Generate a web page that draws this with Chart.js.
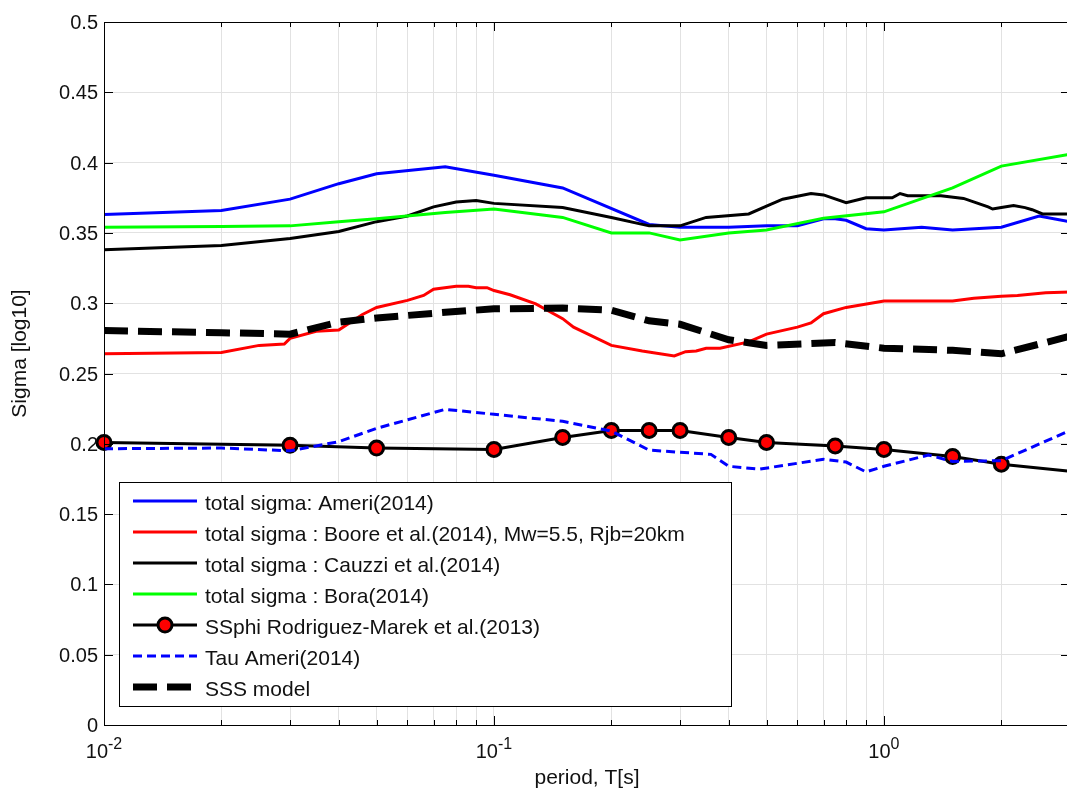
<!DOCTYPE html>
<html>
<head>
<meta charset="utf-8">
<title>Sigma vs period</title>
<script src="https://cdn.jsdelivr.net/npm/chart.js@4.4.1/dist/chart.umd.min.js"></script>
<style>
  html, body { margin: 0; padding: 0; background: #fff; overflow: hidden; }
  #wrap { width: 1080px; height: 793px; }
</style>
</head>
<body>
<div id="wrap"><canvas id="sigmaChart" width="1080" height="793"></canvas></div>
<script>
// total sigma : Ameri(2014)
const ameriPeriods = [0.01, 0.02, 0.03, 0.04, 0.05, 0.075, 0.1, 0.15, 0.25, 0.3, 0.4, 0.5, 0.6, 0.7, 0.75, 0.8, 0.9, 1.0, 1.25, 1.5, 2.0, 2.5, 3.0];
const ameriSigma   = [0.363, 0.366, 0.374, 0.385, 0.392, 0.397, 0.391, 0.382, 0.356, 0.354, 0.354, 0.355, 0.355, 0.360, 0.360, 0.359, 0.353, 0.352, 0.354, 0.352, 0.354, 0.362, 0.358];

// total sigma : Boore et al.(2014)
const boorePeriods = [0.01, 0.02, 0.025, 0.029, 0.03, 0.035, 0.04, 0.046, 0.05, 0.06, 0.066, 0.07, 0.08, 0.086, 0.09, 0.096, 0.1, 0.11, 0.128, 0.15, 0.16, 0.2, 0.24, 0.29, 0.31, 0.33, 0.35, 0.38, 0.45, 0.5, 0.6, 0.65, 0.7, 0.8, 1.0, 1.5, 1.7, 2.0, 2.2, 2.6, 3.0];
const booreSigma   = [0.264, 0.265, 0.270, 0.271, 0.275, 0.280, 0.281, 0.292, 0.297, 0.302, 0.3055, 0.310, 0.312, 0.312, 0.311, 0.311, 0.309, 0.306, 0.2995, 0.289, 0.283, 0.270, 0.266, 0.2625, 0.2655, 0.266, 0.268, 0.268, 0.2725, 0.278, 0.283, 0.286, 0.2925, 0.297, 0.3015, 0.3015, 0.3035, 0.305, 0.3055, 0.3075, 0.308];

// total sigma : Cauzzi et al.(2014)
const cauzziPeriods = [0.01, 0.02, 0.03, 0.04, 0.05, 0.06, 0.07, 0.08, 0.09, 0.1, 0.15, 0.2, 0.25, 0.3, 0.35, 0.45, 0.5, 0.55, 0.6, 0.65, 0.7, 0.8, 0.9, 1.05, 1.1, 1.15, 1.4, 1.6, 1.85, 1.9, 2.0, 2.15, 2.3, 2.4, 2.55, 3.0];
const cauzziSigma   = [0.338, 0.341, 0.346, 0.351, 0.358, 0.362, 0.3685, 0.372, 0.373, 0.371, 0.368, 0.361, 0.355, 0.355, 0.361, 0.3635, 0.369, 0.374, 0.376, 0.378, 0.377, 0.3715, 0.375, 0.375, 0.378, 0.3765, 0.3765, 0.3745, 0.3685, 0.367, 0.368, 0.3695, 0.368, 0.3665, 0.3635, 0.3635];

// total sigma : Bora(2014)
const boraPeriods = [0.01, 0.02, 0.03, 0.04, 0.05, 0.075, 0.1, 0.15, 0.2, 0.25, 0.3, 0.4, 0.5, 0.7, 1.0, 1.5, 2.0, 3.0];
const boraSigma   = [0.354, 0.3545, 0.355, 0.358, 0.360, 0.3645, 0.367, 0.361, 0.350, 0.350, 0.345, 0.350, 0.352, 0.3605, 0.365, 0.382, 0.3975, 0.406];

// SSphi Rodriguez-Marek et al.(2013)
const ssphiPeriods = [0.01, 0.03, 0.05, 0.1, 0.15, 0.2, 0.25, 0.3, 0.4, 0.5, 0.75, 1.0, 1.5, 2.0, 3.0];
const ssphiSigma   = [0.201, 0.199, 0.197, 0.196, 0.2045, 0.2095, 0.2095, 0.2095, 0.2045, 0.201, 0.1985, 0.196, 0.191, 0.1855, 0.1805];

// Tau Ameri(2014)
const tauPeriods = [0.01, 0.02, 0.03, 0.04, 0.05, 0.075, 0.1, 0.15, 0.2, 0.25, 0.36, 0.4, 0.48, 0.7, 0.8, 0.9, 1.0, 1.3, 1.5, 2.0, 3.0];
const tauSigma   = [0.1965, 0.197, 0.195, 0.2015, 0.211, 0.2245, 0.221, 0.216, 0.209, 0.1955, 0.1925, 0.184, 0.182, 0.189, 0.187, 0.180, 0.184, 0.192, 0.1875, 0.188, 0.2095];

// SSS model
const sssPeriods = [0.01, 0.02, 0.03, 0.04, 0.05, 0.075, 0.1, 0.15, 0.2, 0.25, 0.3, 0.4, 0.5, 0.75, 1.0, 1.5, 2.0, 3.0];
const sssSigma   = [0.2805, 0.279, 0.278, 0.2865, 0.2895, 0.2935, 0.296, 0.2965, 0.295, 0.2875, 0.285, 0.274, 0.270, 0.272, 0.268, 0.2665, 0.264, 0.2765];

// axis ticks
const yTickValues = [0, 0.05, 0.1, 0.15, 0.2, 0.25, 0.3, 0.35, 0.4, 0.45, 0.5];
const yTickLabels = ['0', '0.05', '0.1', '0.15', '0.2', '0.25', '0.3', '0.35', '0.4', '0.45', '0.5'];
const xMajorTicks = [0.01, 0.1, 1];
const xMajorExponents = ['-2', '-1', '0'];
const xMin = 0.01, xMax = 3;

// minor log grid: 1..9 x each decade, up to xMax
const xGridValues = [];
[0.01, 0.1, 1].forEach(d => {
  for (let k = 1; k <= 9; k++) {
    const v = +(k * d).toPrecision(3);
    if (v <= xMax) xGridValues.push(v);
  }
});

const textFont = '"Liberation Sans", Arial, Helvetica, sans-serif';
const gridColor = '#e2e2e2';
const markerRadius = 7;

function pts(xs, ys) {
  return xs.map((t, i) => ({ x: t, y: ys[i] }));
}

// axis box, inward ticks and labels drawn like a matlab figure
const matlabAxes = {
  id: 'matlabAxes',
  afterDraw(chart) {
    const { ctx, chartArea: a } = chart;
    const x = chart.scales.x, y = chart.scales.y;
    ctx.save();
    ctx.strokeStyle = '#000';
    ctx.lineWidth = 1;
    ctx.strokeRect(a.left + 0.5, a.top + 0.5, a.right - a.left, a.bottom - a.top);

    ctx.beginPath();
    yTickValues.forEach(v => {
      const py = Math.round(y.getPixelForValue(v)) + 0.5;
      ctx.moveTo(a.left, py); ctx.lineTo(a.left + 9, py);
      ctx.moveTo(a.right, py); ctx.lineTo(a.right - 9, py);
    });
    xGridValues.forEach(v => {
      const px = Math.round(x.getPixelForValue(v)) + 0.5;
      const len = xMajorTicks.includes(v) ? 9 : 5;
      ctx.moveTo(px, a.bottom); ctx.lineTo(px, a.bottom - len);
      ctx.moveTo(px, a.top); ctx.lineTo(px, a.top + len);
    });
    ctx.stroke();

    ctx.fillStyle = '#111';
    ctx.textBaseline = 'alphabetic';
    ctx.font = '20px ' + textFont;
    ctx.textAlign = 'right';
    yTickLabels.forEach((t, i) => {
      ctx.fillText(t, a.left - 6, y.getPixelForValue(yTickValues[i]) + 7);
    });

    ctx.textAlign = 'left';
    xMajorTicks.forEach((v, i) => {
      const px = x.getPixelForValue(v);
      ctx.font = '20px ' + textFont;
      const wBase = ctx.measureText('10').width;
      ctx.font = '16px ' + textFont;
      const wExp = ctx.measureText(xMajorExponents[i]).width;
      const left = px - (wBase + wExp) / 2;
      ctx.font = '20px ' + textFont;
      ctx.fillText('10', left, a.bottom + 33);
      ctx.font = '16px ' + textFont;
      ctx.fillText(xMajorExponents[i], left + wBase, a.bottom + 24);
    });

    // axis titles
    ctx.font = '21px ' + textFont;
    ctx.textAlign = 'center';
    ctx.fillText('period, T[s]', (a.left + a.right) / 2, a.bottom + 59);
    ctx.save();
    ctx.translate(26, (a.top + a.bottom) / 2 - 20);
    ctx.rotate(-Math.PI / 2);
    ctx.fillText('Sigma [log10]', 0, 0);
    ctx.restore();
    ctx.restore();
  }
};

// boxed legend inside the plot, lower left
const boxLegend = {
  id: 'boxLegend',
  afterDraw(chart) {
    const ctx = chart.ctx;
    const bx = 119, by = 482, bw = 612, bh = 224;
    ctx.save();
    ctx.fillStyle = '#fff';
    ctx.fillRect(bx, by, bw, bh);
    ctx.strokeStyle = '#000';
    ctx.lineWidth = 1;
    ctx.strokeRect(bx + 0.5, by + 0.5, bw, bh);

    chart.data.datasets.forEach((ds, i) => {
      const ry = by + 19 + i * 31;
      ctx.strokeStyle = ds.borderColor;
      ctx.lineWidth = ds.borderWidth;
      ctx.setLineDash(ds.borderDash || []);
      ctx.beginPath();
      ctx.moveTo(133, ry);
      ctx.lineTo(197, ry);
      ctx.stroke();
      ctx.setLineDash([]);
      if (ds.showMarker) {
        ctx.beginPath();
        ctx.arc(165, ry, markerRadius, 0, Math.PI * 2);
        ctx.fillStyle = ds.pointBackgroundColor;
        ctx.fill();
        ctx.lineWidth = ds.pointBorderWidth;
        ctx.strokeStyle = ds.pointBorderColor;
        ctx.stroke();
      }
      ctx.fillStyle = '#111';
      ctx.font = '21px ' + textFont;
      ctx.textAlign = 'left';
      ctx.fillText(ds.label, 205, ry + 8.5);
    });
    ctx.restore();
  }
};

const lineBase = { borderWidth: 3, pointRadius: 0, tension: 0, fill: false };

const datasets = [
  { ...lineBase, label: 'total sigma: Ameri(2014)', data: pts(ameriPeriods, ameriSigma), borderColor: '#0000ff' },
  { ...lineBase, label: 'total sigma : Boore et al.(2014), Mw=5.5, Rjb=20km', data: pts(boorePeriods, booreSigma), borderColor: '#ff0000' },
  { ...lineBase, label: 'total sigma : Cauzzi et al.(2014)', data: pts(cauzziPeriods, cauzziSigma), borderColor: '#000000' },
  { ...lineBase, label: 'total sigma : Bora(2014)', data: pts(boraPeriods, boraSigma), borderColor: '#00ff00' },
  { ...lineBase, label: 'SSphi Rodriguez-Marek et al.(2013)', data: pts(ssphiPeriods, ssphiSigma), borderColor: '#000000',
    showMarker: true, clip: false,
    pointRadius: ssphiPeriods.map(t => (t < xMax ? markerRadius : 0)),
    pointBackgroundColor: '#ff0000', pointBorderColor: '#000000', pointBorderWidth: 3 },
  { ...lineBase, label: 'Tau Ameri(2014)', data: pts(tauPeriods, tauSigma), borderColor: '#0000ff', borderDash: [9, 5] },
  { ...lineBase, label: 'SSS model', data: pts(sssPeriods, sssSigma), borderColor: '#000000', borderWidth: 7, borderDash: [24, 10] }
];
// later series are painted on top
datasets.forEach((ds, i) => { ds.order = datasets.length - i; });

new Chart(document.getElementById('sigmaChart'), {
  type: 'line',
  data: { datasets: datasets },
  options: {
    responsive: false,
    animation: false,
    layout: { padding: { top: 22, right: 5, left: 0, bottom: 0 } },
    plugins: { legend: { display: false }, tooltip: { enabled: false } },
    scales: {
      x: {
        type: 'logarithmic',
        min: xMin,
        max: xMax,
        afterBuildTicks: s => { s.ticks = xGridValues.map(v => ({ value: v })); },
        afterFit: s => { s.height = 68; },
        ticks: { display: false },
        grid: { color: gridColor, drawTicks: false },
        border: { display: false }
      },
      y: {
        type: 'linear',
        min: 0,
        max: 0.5,
        afterBuildTicks: s => { s.ticks = yTickValues.map(v => ({ value: v })); },
        afterFit: s => { s.width = 104; },
        ticks: { display: false },
        grid: { color: gridColor, drawTicks: false },
        border: { display: false }
      }
    }
  },
  plugins: [matlabAxes, boxLegend]
});
</script>
</body>
</html>
